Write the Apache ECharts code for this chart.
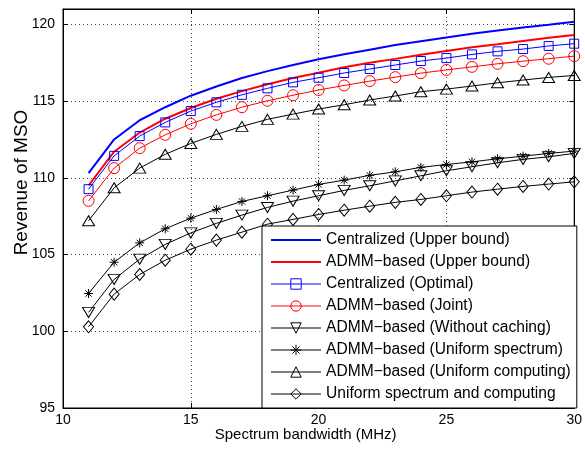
<!DOCTYPE html>
<html>
<head>
<meta charset="utf-8">
<script src="https://cdn.jsdelivr.net/npm/echarts@6/dist/echarts.min.js"></script>
<style>
  html, body { margin: 0; padding: 0; background: #fff; }
  #chart { width: 585px; height: 452px; }
</style>
</head>
<body>
<div id="chart"></div>
<script>
// spectrum bandwidth (MHz)
const bandwidth = [11, 12, 13, 14, 15, 16, 17, 18, 19, 20, 21, 22, 23, 24, 25, 26, 27, 28, 29, 30];

const centralizedUpper = [110.3, 112.5, 113.75, 114.6, 115.35, 115.95, 116.5, 116.95, 117.35, 117.72,
  118.05, 118.35, 118.65, 118.9, 119.15, 119.38, 119.6, 119.8, 119.98, 120.17];
const admmUpper = [109.5, 111.7, 112.95, 113.85, 114.55, 115.15, 115.65, 116.1, 116.5, 116.85,
  117.2, 117.5, 117.75, 118.02, 118.27, 118.5, 118.7, 118.92, 119.12, 119.3];
const centralizedOptimal = [109.26, 111.43, 112.72, 113.61, 114.35, 114.92, 115.41, 115.83, 116.22, 116.52,
  116.83, 117.09, 117.35, 117.61, 117.8, 118.04, 118.24, 118.39, 118.59, 118.74];
const admmJoint = [108.5, 110.63, 111.93, 112.8, 113.52, 114.1, 114.6, 115.02, 115.38, 115.72,
  116.02, 116.3, 116.56, 116.82, 117.03, 117.23, 117.43, 117.6, 117.76, 117.93];
const admmNoCaching = [101.23, 103.38, 104.7, 105.66, 106.41, 107.03, 107.57, 108.07, 108.48, 108.83,
  109.18, 109.48, 109.8, 110.13, 110.46, 110.72, 110.98, 111.2, 111.37, 111.59];
const admmUniformSpectrum = [102.46, 104.5, 105.76, 106.68, 107.37, 107.94, 108.46, 108.83, 109.2, 109.57,
  109.85, 110.16, 110.39, 110.68, 110.87, 111.04, 111.24, 111.41, 111.59, 111.74];
const admmUniformComputing = [107.2, 109.35, 110.63, 111.53, 112.24, 112.83, 113.35, 113.81, 114.15, 114.48,
  114.76, 115.07, 115.33, 115.61, 115.78, 115.98, 116.19, 116.37, 116.54, 116.67];
const uniformBoth = [100.29, 102.42, 103.7, 104.63, 105.35, 105.94, 106.46, 106.98, 107.29, 107.61,
  107.89, 108.15, 108.4, 108.59, 108.83, 109.07, 109.26, 109.44, 109.59, 109.74];

const xTicks = [10, 15, 20, 25, 30];
const yTicks = [95, 100, 105, 110, 115, 120];

const FONT = "'Liberation Sans', Arial, Helvetica, sans-serif";
const STAR = "path://M5,0L5,10M0,5L10,5M1.5,1.5L8.5,8.5M8.5,1.5L1.5,8.5";
const TRI_DOWN = "path://M0,0L12,0L6,10Z";

const pairs = (ys) => bandwidth.map((x, i) => [x, ys[i]]);

function makeSeries(name, ys, color, symbol, size, width) {
  return {
    name: name,
    type: "line",
    data: pairs(ys),
    symbol: symbol || "circle",
    showSymbol: !!symbol,
    symbolSize: size || 0,
    lineStyle: { color: color, width: width || 1 },
    itemStyle: { color: "rgba(0,0,0,0)", borderColor: color, borderWidth: symbol ? 1 : 0 },
    emphasis: { disabled: true },
    animation: false,
    z: 3,
  };
}

const series = [
  makeSeries("Centralized (Upper bound)", centralizedUpper, "#0000ff", null, 0, 2),
  makeSeries("ADMM−based (Upper bound)", admmUpper, "#ff0000", null, 0, 2),
  makeSeries("Centralized (Optimal)", centralizedOptimal, "#0000ff", "rect", 9),
  makeSeries("ADMM−based (Joint)", admmJoint, "#ff0000", "circle", 11),
  makeSeries("ADMM−based (Without caching)", admmNoCaching, "#000000", TRI_DOWN, [12, 10]),
  makeSeries("ADMM−based (Uniform spectrum)", admmUniformSpectrum, "#000000", STAR, 9),
  makeSeries("ADMM−based (Uniform computing)", admmUniformComputing, "#000000", "triangle", [12, 10]),
  makeSeries("Uniform spectrum and computing", uniformBoth, "#000000", "diamond", [10, 12]),
];

// the two upper-bound entries are plain lines, no marker in the legend
const legendData = series.map((s, i) => (i < 2
  ? { name: s.name, itemStyle: { borderWidth: 0, opacity: 0 } }
  : { name: s.name }));

const gridLine = { show: true, lineStyle: { color: "#444", type: [1, 3], width: 1 } };

const chart = echarts.init(document.getElementById("chart"));
chart.setOption({
  backgroundColor: "#fff",
  animation: false,
  grid: { left: 63, right: 5, top: 9, bottom: 44, show: true, borderColor: "#000", borderWidth: 1 },
  legend: {
    orient: "vertical",
    left: 262,
    top: 226,
    padding: [6, 6, 6, 8],
    itemWidth: 50,
    itemHeight: 13,
    itemGap: 6,
    backgroundColor: "#fff",
    borderColor: "#000",
    borderWidth: 1,
    borderRadius: 0,
    selectedMode: false,
    itemStyle: { borderWidth: 1 },
    lineStyle: { width: "inherit" },
    textStyle: { fontFamily: FONT, fontSize: 15.6, color: "#000" },
    data: legendData,
  },
  xAxis: [
    {
      type: "value",
      min: 10,
      max: 30,
      interval: 5,
      name: "Spectrum bandwidth (MHz)",
      nameLocation: "middle",
      nameGap: 19,
      nameMoveOverlap: false,
      nameTextStyle: { fontFamily: FONT, fontSize: 15, color: "#000", padding: [0, 26, 0, 0] },
      axisLine: { lineStyle: { color: "#000", width: 1 } },
      axisTick: { inside: true, length: 5, lineStyle: { color: "#000" } },
      axisLabel: {
        fontFamily: FONT, fontSize: 14, color: "#000", margin: 5,
        formatter: (v) => (xTicks.includes(v) ? String(v) : ""),
      },
      splitLine: gridLine,
    },
    {
      type: "value",
      position: "top",
      min: 10,
      max: 30,
      interval: 5,
      axisLine: { lineStyle: { color: "#000", width: 1 } },
      axisTick: { inside: true, length: 5, lineStyle: { color: "#000" } },
      axisLabel: { show: false },
      splitLine: { show: false },
    },
  ],
  yAxis: [
    {
      type: "value",
      min: 95,
      max: 121,
      interval: 5,
      name: "Revenue of MSO",
      nameLocation: "middle",
      nameGap: 32,
      nameMoveOverlap: false,
      nameTextStyle: { fontFamily: FONT, fontSize: 19, color: "#000", padding: [0, 0, 0, 52] },
      axisLine: { lineStyle: { color: "#000", width: 1 } },
      axisTick: { inside: true, length: 5, lineStyle: { color: "#000" } },
      axisLabel: {
        fontFamily: FONT, fontSize: 14, color: "#000", margin: 8, showMaxLabel: false,
        formatter: (v) => (yTicks.includes(v) ? String(v) : ""),
      },
      splitLine: gridLine,
    },
    {
      type: "value",
      position: "right",
      min: 95,
      max: 121,
      interval: 5,
      axisLine: { lineStyle: { color: "#000", width: 1 } },
      axisTick: { inside: true, length: 5, lineStyle: { color: "#000" } },
      axisLabel: { show: false },
      splitLine: { show: false },
    },
  ],
  series: series,
});
</script>
</body>
</html>
